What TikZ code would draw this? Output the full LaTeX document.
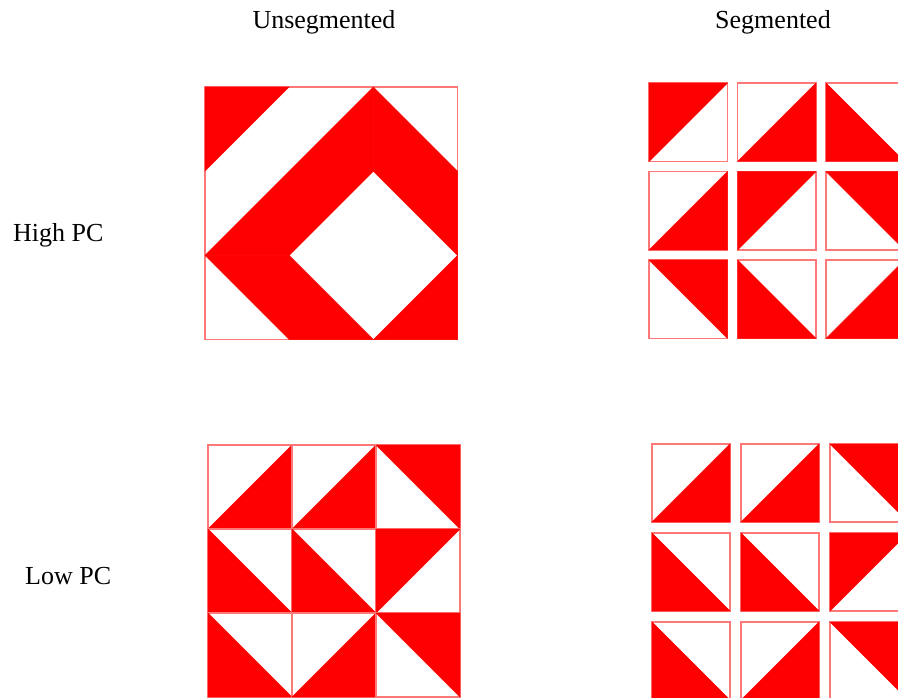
\documentclass[tikz,border=0pt]{standalone}
\usepackage{fontspec}
\setmainfont{Liberation Serif}
\definecolor{edgered}{RGB}{255,120,120}
\tikzset{
  tileedge/.style={draw=edgered, line width=1.3pt},
  noedge/.style={draw=none},
  tilefill/.style={fill=red, draw=red, line width=0.4pt, line join=round},
  lbl/.style={inner sep=0pt, font=\fontsize{26}{31}\selectfont}
}
% #1 x, #2 y (top-left, image coords), #3 size, #4 type: 0 UL, 1 UR, 2 LL, 3 LR, #5 edge style
\newcommand\redtile[5]{%
  \begin{scope}[shift={(#1,#2)}]
    \path[#5] (0,0) rectangle (#3,#3);
    \ifcase#4
      \path[tilefill] (0,0) -- (#3,0) -- (0,#3) -- cycle;
    \or
      \path[tilefill] (0,0) -- (#3,0) -- (#3,#3) -- cycle;
    \or
      \path[tilefill] (0,0) -- (0,#3) -- (#3,#3) -- cycle;
    \or
      \path[tilefill] (#3,0) -- (#3,#3) -- (0,#3) -- cycle;
    \fi
  \end{scope}}
% #1 x0, #2 y0, #3 step, #4 size, #5 list of 9 types, #6 edge style
\newcommand\tilegrid[6]{%
  \foreach \tt [count=\ii from 0] in {#5} {%
    \pgfmathtruncatemacro\cc{mod(\ii,3)}%
    \pgfmathtruncatemacro\rr{div(\ii,3)}%
    \pgfmathsetmacro\xx{#1+\cc*#3}%
    \pgfmathsetmacro\yy{#2+\rr*#3}%
    \redtile{\xx}{\yy}{#4}{\tt}{#6}%
  }}
\begin{document}
\begin{tikzpicture}[x=1pt,y=-1pt]
  \useasboundingbox (0,0) rectangle (898,698);
  \clip (0,0) rectangle (898,698);
  \fill[white] (0,0) rectangle (898,698);

  % headers and row labels
  \node[lbl, anchor=base] (hunseg) at (324,29) {Unsegmented};
  \node[lbl, anchor=base] (hseg) at (773,29) {Segmented};
  \node[lbl, anchor=base west] (lhigh) at (13,241) {High PC};
  \node[lbl, anchor=base west] (llow) at (25,584) {Low PC};

  % High PC, unsegmented (outer frame only)
  \draw[tileedge] (205,87) rectangle (457.6,339.6);
  \tilegrid{205}{87}{84.2}{84.2}{0,3,2,3,0,1,1,2,3}{noedge}
  % High PC, segmented
  \tilegrid{649}{83}{88.5}{78.5}{0,3,2,3,0,1,1,2,3}{tileedge}
  % Low PC, unsegmented
  \tilegrid{208}{445}{84}{84}{3,3,1,2,2,0,2,3,1}{tileedge}
  % Low PC, segmented
  \tilegrid{652}{444}{89}{78}{3,3,1,2,2,0,2,3,1}{tileedge}
\end{tikzpicture}
\end{document}
